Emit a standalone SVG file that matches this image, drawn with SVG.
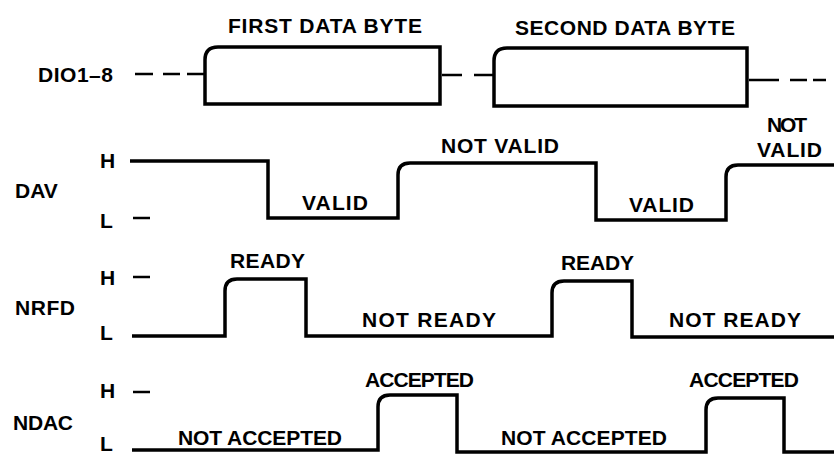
<svg xmlns="http://www.w3.org/2000/svg" width="834" height="455" viewBox="0 0 834 455">
<style>
.t{font-family:"Liberation Sans",Arial,sans-serif;font-weight:bold;font-size:21px;fill:#000}
.w{fill:none;stroke:#000;stroke-width:3.5;stroke-linejoin:miter}
.d{fill:none;stroke:#000;stroke-width:2.5}
</style>
<rect width="834" height="455" fill="#fff"/>
<g id="dio">
<text class="t" x="38" y="82" textLength="75">DIO1–8</text>
<text class="t" x="228" y="33" textLength="194">FIRST DATA BYTE</text>
<text class="t" x="515" y="35" textLength="220">SECOND DATA BYTE</text>
<path class="d" d="M135,74 H153 M163,74 H180 M187,74 H205"/>
<path class="w" d="M205,104 V60 Q205,47 218,47 H440 V104 Z"/>
<path class="d" d="M442,75 H462 M474,75 H494"/>
<path class="w" d="M494,106 V61 Q494,48 507,48 H747 V106 Z"/>
<path class="d" d="M749,80 H779 M790,80 H807 M813,80 H826"/>
</g>
<g id="dav">
<text class="t" x="15" y="198">DAV</text>
<text class="t" x="100" y="168">H</text>
<text class="t" x="100" y="228">L</text>
<path class="d" d="M133,218 H150"/>
<path class="w" d="M130,161 H268 V218 H398 V175 Q398,163 410,163 H596 V220 H726 V177 Q726,165 738,165 H834"/>
<text class="t" x="302" y="210" textLength="66">VALID</text>
<text class="t" x="441" y="153" textLength="118">NOT VALID</text>
<text class="t" x="629" y="212" textLength="65">VALID</text>
<text class="t" x="767" y="132" textLength="40">NOT</text>
<text class="t" x="757" y="157" textLength="65">VALID</text>
</g>
<g id="nrfd">
<text class="t" x="15" y="315" textLength="60">NRFD</text>
<text class="t" x="100" y="285">H</text>
<text class="t" x="100" y="340">L</text>
<path class="d" d="M133,277 H150"/>
<path class="w" d="M132,336 H225 V291 Q225,279 237,279 H306 V336 H552 V293 Q552,281 564,281 H632 V337 H834"/>
<text class="t" x="230" y="268" textLength="75">READY</text>
<text class="t" x="362" y="327" textLength="134">NOT READY</text>
<text class="t" x="561" y="270" textLength="73">READY</text>
<text class="t" x="669" y="327" textLength="132">NOT READY</text>
</g>
<g id="ndac">
<text class="t" x="13" y="430" textLength="60">NDAC</text>
<text class="t" x="100" y="398">H</text>
<text class="t" x="100" y="451">L</text>
<path class="d" d="M133,392 H150"/>
<path class="w" d="M132,450 H378 V407 Q378,395 390,395 H457 V452 H706 V410 Q706,398 718,398 H784 V452 H834"/>
<text class="t" x="365" y="387" textLength="109">ACCEPTED</text>
<text class="t" x="178" y="445" textLength="164">NOT ACCEPTED</text>
<text class="t" x="501" y="445" textLength="166">NOT ACCEPTED</text>
<text class="t" x="689" y="387" textLength="110">ACCEPTED</text>
</g>
</svg>
